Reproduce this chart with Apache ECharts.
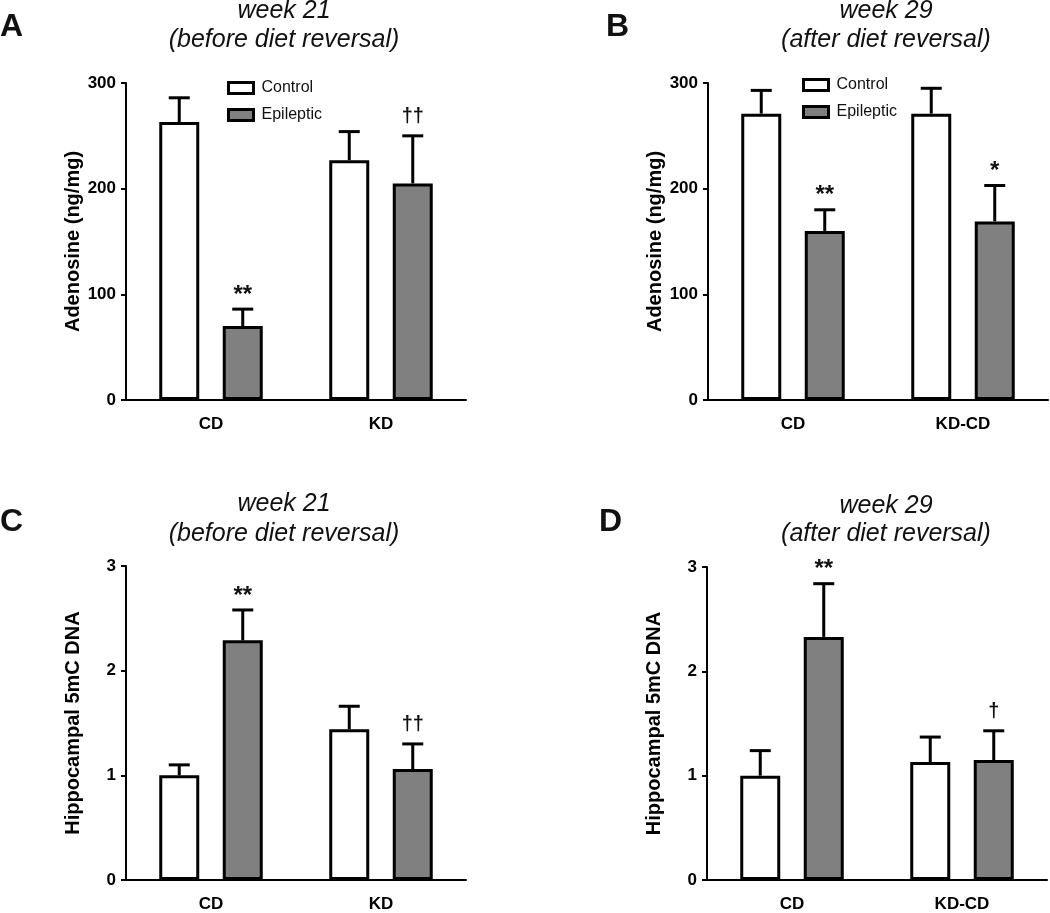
<!DOCTYPE html>
<html>
<head>
<meta charset="utf-8">
<script src="https://cdn.jsdelivr.net/npm/echarts@6/dist/echarts.min.js"></script>
<style>
  html, body { margin: 0; padding: 0; background: #fff; }
  #chart { width: 1050px; height: 913px; }
</style>
</head>
<body>
<div id="chart"></div>
<script>
const catsWeek21 = ['CD', 'KD'];
const catsWeek29 = ['CD', 'KD-CD'];

// adenosine (ng/mg), mean and top of error bar
const adenoCtrl21 = [263, 227];
const adenoCtrl21Top = [286, 254];
const adenoEpi21 = [70, 205];
const adenoEpi21Top = [86, 250];
const adenoCtrl29 = [271, 271];
const adenoCtrl29Top = [293, 295];
const adenoEpi29 = [160, 169];
const adenoEpi29Top = [180, 203];

// hippocampal 5mC DNA
const mcCtrl21 = [1.00, 1.44];
const mcCtrl21Top = [1.10, 1.66];
const mcEpi21 = [2.29, 1.06];
const mcEpi21Top = [2.58, 1.30];
const mcCtrl29 = [1.00, 1.13];
const mcCtrl29Top = [1.24, 1.37];
const mcEpi29 = [2.33, 1.15];
const mcEpi29Top = [2.84, 1.43];

// significance marks over the epileptic bars
const sigA = ['**', '††'];
const sigB = ['**', '*'];
const sigC = ['**', '††'];
const sigD = ['**', '†'];

const adenoTicks = [0, 100, 200, 300];
const mcTicks = [0, 1, 2, 3];

const FONT = '"Liberation Sans", Arial, sans-serif';

const panels = [
    { letter: 'A', cats: catsWeek21, ctrl: adenoCtrl21, ctrlTop: adenoCtrl21Top, epi: adenoEpi21, epiTop: adenoEpi21Top, sig: sigA,
      ticks: adenoTicks, yName: 'Adenosine (ng/mg)', grid: { left: 126, top: 83, width: 340, height: 317 } },
    { letter: 'B', cats: catsWeek29, ctrl: adenoCtrl29, ctrlTop: adenoCtrl29Top, epi: adenoEpi29, epiTop: adenoEpi29Top, sig: sigB,
      ticks: adenoTicks, yName: 'Adenosine (ng/mg)', grid: { left: 708, top: 83, width: 340, height: 317 } },
    { letter: 'C', cats: catsWeek21, ctrl: mcCtrl21, ctrlTop: mcCtrl21Top, epi: mcEpi21, epiTop: mcEpi21Top, sig: sigC,
      ticks: mcTicks, yName: 'Hippocampal 5mC DNA', grid: { left: 126, top: 566, width: 340, height: 317 } },
    { letter: 'D', cats: catsWeek29, ctrl: mcCtrl29, ctrlTop: mcCtrl29Top, epi: mcEpi29, epiTop: mcEpi29Top, sig: sigD,
      ticks: mcTicks, yName: 'Hippocampal 5mC DNA', grid: { left: 707, top: 567, width: 340, height: 316 } }
];

const BAR_W = 40;
const BAR_GAP = 23.5;
const CAP = 10.5;

function errorBars(offsetPx, marks) {
    return function (params, api) {
        const i = api.value(0);
        const base = api.coord([i, api.value(1)]);
        const top = api.coord([i, api.value(2)]);
        const x = base[0] + offsetPx;
        const style = { stroke: '#000', lineWidth: 3 };
        const children = [
            { type: 'line', shape: { x1: x, y1: base[1], x2: x, y2: top[1] }, style: style },
            { type: 'line', shape: { x1: x - CAP, y1: top[1], x2: x + CAP, y2: top[1] }, style: style }
        ];
        const mark = marks ? marks[params.dataIndex] : '';
        if (mark) {
            const star = mark.indexOf('*') >= 0;
            children.push({
                type: 'text',
                style: {
                    text: mark, x: x, y: top[1] - (star ? 14 : 19),
                    align: 'center', verticalAlign: 'middle',
                    font: (star ? 'bold 24px ' : 'bold 20px ') + FONT,
                    fill: '#111'
                }
            });
        }
        return { type: 'group', children: children };
    };
}

const grids = [], xAxes = [], yAxes = [], series = [];
panels.forEach((p, k) => {
    grids.push(p.grid);
    const last = p.ticks[p.ticks.length - 1];
    xAxes.push({
        type: 'category', gridIndex: k, data: p.cats,
        axisLine: { lineStyle: { color: '#000', width: 2 } },
        axisTick: { alignWithLabel: true, length: 6, lineStyle: { color: '#000', width: 2 } },
        axisLabel: { color: '#000', fontWeight: 'bold', fontSize: 17, fontFamily: FONT, margin: 16 }
    });
    yAxes.push({
        type: 'value', gridIndex: k, min: 0, max: last, interval: p.ticks[1] - p.ticks[0],
        name: p.yName, nameLocation: 'middle', nameGap: 43,
        nameTextStyle: { color: '#000', fontWeight: 'bold', fontSize: 20, fontFamily: FONT },
        splitLine: { show: false },
        axisLine: { show: true, lineStyle: { color: '#000', width: 2 } },
        axisTick: { show: true, length: 5, lineStyle: { color: '#000', width: 2 } },
        axisLabel: { color: '#000', fontWeight: 'bold', fontSize: 17, fontFamily: FONT, margin: 10 }
    });
    const barBase = {
        type: 'bar', xAxisIndex: k, yAxisIndex: k, barWidth: BAR_W,
        barGap: (BAR_GAP / BAR_W * 100) + '%'
    };
    series.push(Object.assign({}, barBase, {
        name: 'Control', data: p.ctrl,
        itemStyle: { color: '#fff', borderColor: '#000', borderWidth: 3 }
    }));
    series.push(Object.assign({}, barBase, {
        name: 'Epileptic', data: p.epi,
        itemStyle: { color: '#808080', borderColor: '#000', borderWidth: 3 }
    }));
    const off = (BAR_W + BAR_GAP) / 2;
    series.push({
        type: 'custom', name: 'err-ctrl-' + p.letter, xAxisIndex: k, yAxisIndex: k, z: 3,
        renderItem: errorBars(-off, null),
        data: p.ctrl.map((v, i) => [i, v, p.ctrlTop[i]])
    });
    series.push({
        type: 'custom', name: 'err-epi-' + p.letter, xAxisIndex: k, yAxisIndex: k, z: 3,
        renderItem: errorBars(off, p.sig),
        data: p.epi.map((v, i) => [i, v, p.epiTop[i]])
    });
});

function txt(text, x, y, font, align) {
    return { type: 'text', x: x, y: y, style: { text: text, font: font, fill: '#111', align: align || 'center', verticalAlign: 'middle' } };
}

const titleFont = 'italic 25px ' + FONT;
const letterFont = 'bold 32px ' + FONT;

const graphic = [
    txt('A', 0, 27, letterFont, 'left'),
    txt('B', 606, 27, letterFont, 'left'),
    txt('C', 0, 522, letterFont, 'left'),
    txt('D', 599, 522, letterFont, 'left'),
    txt('week 21', 284, 11, titleFont),
    txt('(before diet reversal)', 284, 40, titleFont),
    txt('week 29', 886, 11, titleFont),
    txt('(after diet reversal)', 886, 40, titleFont),
    txt('week 21', 284, 504, titleFont),
    txt('(before diet reversal)', 284, 534, titleFont),
    txt('week 29', 886, 506, titleFont),
    txt('(after diet reversal)', 886, 534, titleFont)
];

const legendBase = {
    orient: 'vertical', data: ['Control', 'Epileptic'], icon: 'rect',
    itemWidth: 25, itemHeight: 11, itemGap: 11,
    itemStyle: { borderColor: '#000', borderWidth: 3 },
    textStyle: { color: '#111', fontSize: 16, lineHeight: 16, fontFamily: FONT, padding: [0, 0, 0, 3] }
};

const chart = echarts.init(document.getElementById('chart'));
chart.setOption({
    animation: false,
    backgroundColor: '#fff',
    textStyle: { fontFamily: FONT },
    legend: [
        Object.assign({}, legendBase, { left: 222, top: 75 }),
        Object.assign({}, legendBase, { left: 797, top: 72 })
    ],
    grid: grids,
    xAxis: xAxes,
    yAxis: yAxes,
    series: series,
    graphic: graphic
});
</script>
</body>
</html>
